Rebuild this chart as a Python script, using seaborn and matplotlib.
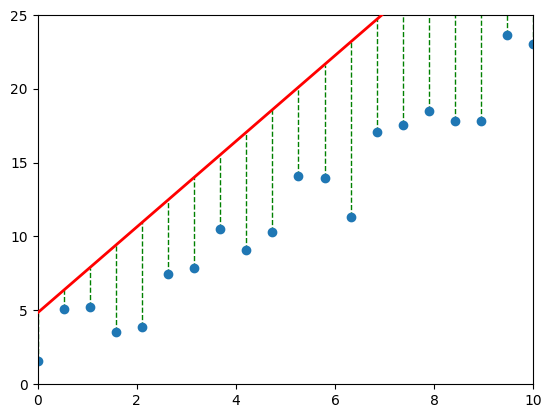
import numpy as np
import pandas as pd
import seaborn as sns
import matplotlib
matplotlib.use("Agg")
import matplotlib.pyplot as plt

x_vals = [0.0, 0.526, 1.053, 1.579, 2.105, 2.632, 3.158, 3.684, 4.211, 4.737,
          5.263, 5.789, 6.316, 6.842, 7.368, 7.895, 8.421, 8.947, 9.474, 10.0]
y_vals = [1.58, 5.06, 5.22, 3.50, 3.84, 7.47, 7.84, 10.48, 9.10, 10.32,
          14.07, 13.94, 11.29, 17.05, 17.52, 18.47, 17.80, 17.80, 23.62, 23.01]

# fitted line
intercept = 4.83
slope = 2.905


def main():
    df = pd.DataFrame({"x": x_vals, "y": y_vals})
    df["fit"] = intercept + slope * df["x"]

    fig, ax = plt.subplots(figsize=(5.52, 4.18), dpi=100)
    fig.subplots_adjust(left=0.0683, right=0.966, bottom=0.0813, top=0.964)

    sns.scatterplot(data=df, x="x", y="y", ax=ax, s=36, color="#1f77b4",
                    edgecolor="#1f77b4", linewidth=1, zorder=2)
    sns.lineplot(x=[0, 10], y=[intercept, intercept + slope * 10], ax=ax,
                 color="red", linewidth=2, zorder=3)

    for _, row in df.iterrows():
        ax.plot([row["x"], row["x"]], [row["y"], row["fit"]], "g--",
                linewidth=1, zorder=1)

    ax.set_xlim(0, 10)
    ax.set_ylim(0, 25)
    ax.set_xlabel("")
    ax.set_ylabel("")

    fig.savefig("out.png", dpi=100)


if __name__ == "__main__":
    main()
